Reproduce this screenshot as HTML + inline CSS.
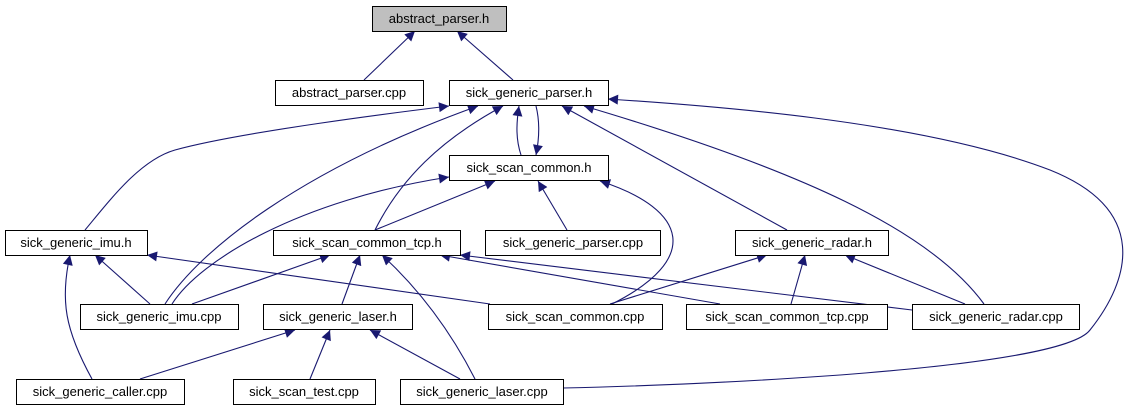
<!DOCTYPE html>
<html><head><meta charset="utf-8"><style>
html,body{margin:0;padding:0;background:#fff;width:1126px;height:411px;overflow:hidden}
text{font-family:"Liberation Sans",sans-serif;font-size:13px;fill:#000}
</style></head><body>
<svg width="1126" height="411" viewBox="0 0 1126 411" xmlns="http://www.w3.org/2000/svg">
<defs><marker id="a" viewBox="0 0 10 10" refX="10" refY="5" markerWidth="12" markerHeight="10" markerUnits="userSpaceOnUse" orient="auto"><path d="M0,0 L10,5 L0,10 z" fill="#191970"/></marker></defs>
<g fill="none" stroke="#191970" stroke-width="1.1" marker-end="url(#a)">
<path d="M364,80 L415,31"/>
<path d="M513,80 L457,31"/>
<path d="M85,230 C110,200 140,160 175,150 C240,132 400,112 449,106"/>
<path d="M165,304 C200,250 300,170 478,106"/>
<path d="M375,230 C400,180 440,140 503,106"/>
<path d="M521,155 C516,140 516,125 519,106"/>
<path d="M536,106 C540,122 539,140 536,155"/>
<path d="M787,230 L562,106"/>
<path d="M984,304 C930,230 800,170 584,106"/>
<path d="M563,388 C700,385 1060,370 1090,330 C1130,280 1150,210 1050,170 C920,120 700,105 608,99"/>
<path d="M375,230 L495,181"/>
<path d="M172,304 C200,260 300,200 449,177"/>
<path d="M567,230 L538,181"/>
<path d="M612,304 C700,260 690,210 600,181"/>
<path d="M150,304 L95,255"/>
<path d="M92,379 C65,330 60,300 70,255"/>
<path d="M490,304 L147,255"/>
<path d="M192,304 L330,255"/>
<path d="M342,304 L360,255"/>
<path d="M475,379 C450,330 420,290 382,255"/>
<path d="M720,304 L440,255"/>
<path d="M912,310 L460,255"/>
<path d="M140,379 L295,330"/>
<path d="M310,379 L330,330"/>
<path d="M460,379 L370,330"/>
<path d="M610,304 L767,255"/>
<path d="M791,304 L805,255"/>
<path d="M965,304 L845,255"/>
</g>
<g stroke="#000" stroke-width="1" fill="#fff">
<rect x="372.5" y="6.5" width="134" height="25" fill="#bfbfbf"/>
<rect x="275.5" y="80.5" width="148" height="25"/>
<rect x="449.5" y="80.5" width="159" height="25"/>
<rect x="449.5" y="155.5" width="159" height="25"/>
<rect x="5.5" y="230.5" width="142" height="25"/>
<rect x="273.5" y="230.5" width="187" height="25"/>
<rect x="485.5" y="230.5" width="175" height="25"/>
<rect x="735.5" y="230.5" width="153" height="25"/>
<rect x="80.5" y="304.5" width="158" height="25"/>
<rect x="263.5" y="304.5" width="149" height="25"/>
<rect x="488.5" y="304.5" width="174" height="25"/>
<rect x="686.5" y="304.5" width="201" height="25"/>
<rect x="912.5" y="304.5" width="167" height="25"/>
<rect x="16.5" y="379.5" width="168" height="25"/>
<rect x="233.5" y="379.5" width="142" height="25"/>
<rect x="400.5" y="379.5" width="163" height="25"/>
</g>
<g text-anchor="middle">
<text x="439" y="23">abstract_parser.h</text>
<text x="349" y="97">abstract_parser.cpp</text>
<text x="529" y="97">sick_generic_parser.h</text>
<text x="529" y="172">sick_scan_common.h</text>
<text x="76" y="247">sick_generic_imu.h</text>
<text x="367" y="247">sick_scan_common_tcp.h</text>
<text x="573" y="247">sick_generic_parser.cpp</text>
<text x="812" y="247">sick_generic_radar.h</text>
<text x="159" y="321">sick_generic_imu.cpp</text>
<text x="338" y="321">sick_generic_laser.h</text>
<text x="575" y="321">sick_scan_common.cpp</text>
<text x="787" y="321">sick_scan_common_tcp.cpp</text>
<text x="996" y="321">sick_generic_radar.cpp</text>
<text x="100" y="396">sick_generic_caller.cpp</text>
<text x="304" y="396">sick_scan_test.cpp</text>
<text x="482" y="396">sick_generic_laser.cpp</text>
</g>
</svg>
</body></html>
